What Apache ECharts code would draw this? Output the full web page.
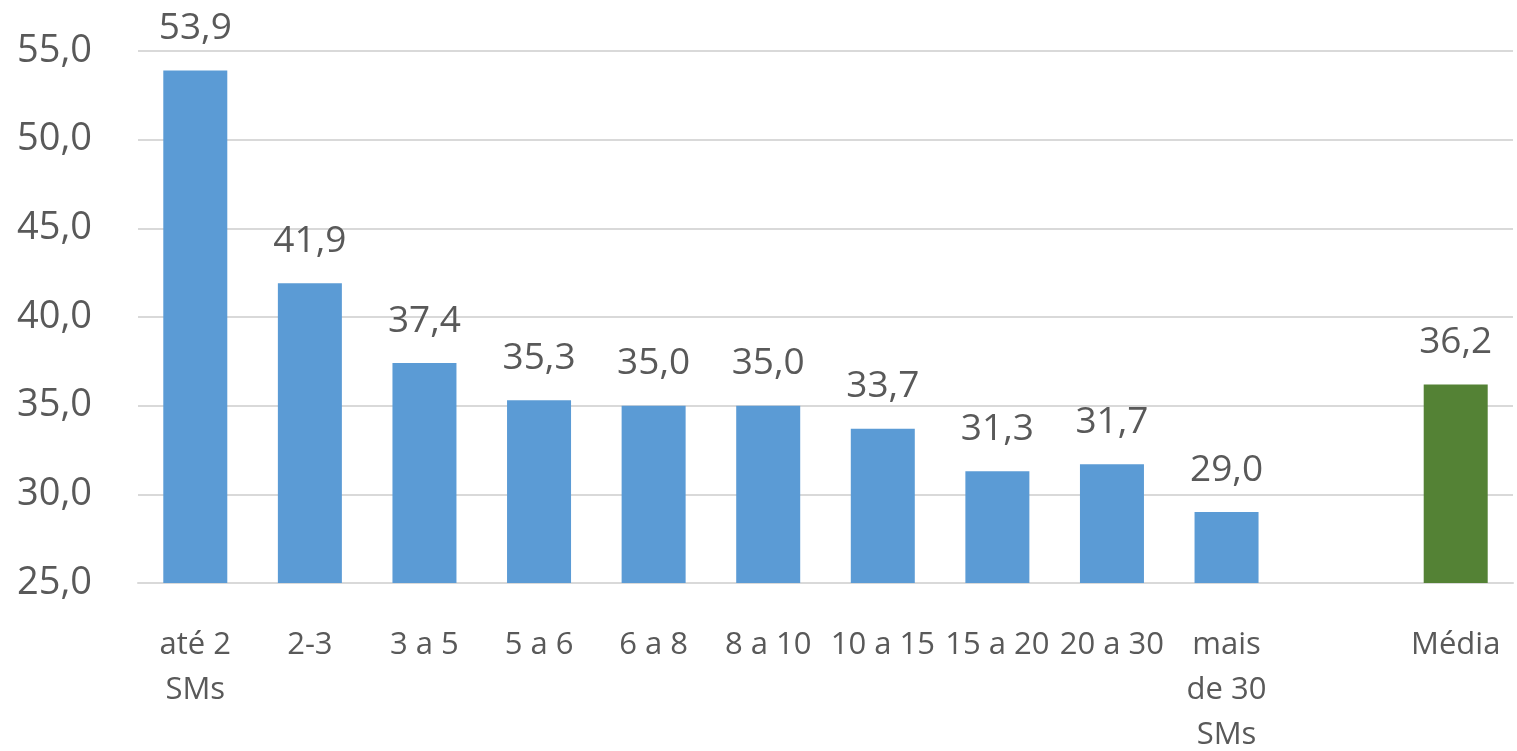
<!DOCTYPE html>
<html>
<head>
<meta charset="utf-8">
<style>
  html, body { margin: 0; padding: 0; background: #ffffff; }
  #chart { width: 1517px; height: 751px; }
</style>
<script src="https://cdn.jsdelivr.net/npm/echarts@6/dist/echarts.min.js"></script>
</head>
<body>
<div id="chart"></div>
<script>
// Income brackets (in minimum wages) and the average; '' leaves a gap before the average
const categories = ['até 2\nSMs', '2-3', '3 a 5', '5 a 6', '6 a 8', '8 a 10', '10 a 15', '15 a 20', '20 a 30', 'mais\nde 30\nSMs', '', 'Média'];
const values = [53.9, 41.9, 37.4, 35.3, 35.0, 35.0, 33.7, 31.3, 31.7, 29.0, null, 36.2];
const yTicks = [25, 30, 35, 40, 45, 50, 55];

const BLUE = '#5B9BD5';
const GREEN = '#548235';
const TEXT = '#595959';
const FONT = '"Open Sans", "Liberation Sans", sans-serif';

const fmt = v => Number(v).toFixed(1).replace('.', ',');

const chart = echarts.init(document.getElementById('chart'));
chart.setOption({
  animation: false,
  backgroundColor: '#ffffff',
  grid: { left: 138, right: 4, top: 51, bottom: 168, containLabel: false, outerBoundsMode: 'none' },
  xAxis: {
    type: 'category',
    data: categories,
    axisLine: { show: true, lineStyle: { color: '#D9D9D9', width: 2 } },
    axisTick: { show: false },
    axisLabel: {
      color: TEXT,
      fontFamily: FONT,
      fontSize: 31,
      lineHeight: 45,
      margin: 40,
      interval: 0,
      align: 'center'
    }
  },
  yAxis: {
    type: 'value',
    min: yTicks[0],
    max: yTicks[yTicks.length - 1],
    interval: 5,
    axisLine: { show: false },
    axisTick: { show: false },
    splitLine: { lineStyle: { color: '#D9D9D9', width: 2 } },
    axisLabel: {
      color: TEXT,
      fontFamily: FONT,
      fontSize: 38,
      margin: 46,
      formatter: v => fmt(v)
    }
  },
  series: [{
    type: 'bar',
    barWidth: 64,
    data: values.map((v, i) => ({
      value: v,
      itemStyle: { color: categories[i] === 'Média' ? GREEN : BLUE }
    })),
    label: {
      show: true,
      position: 'top',
      distance: 20,
      color: TEXT,
      fontFamily: FONT,
      fontSize: 37,
      lineHeight: 44,
      formatter: p => fmt(p.value)
    }
  }]
});
</script>
</body>
</html>
